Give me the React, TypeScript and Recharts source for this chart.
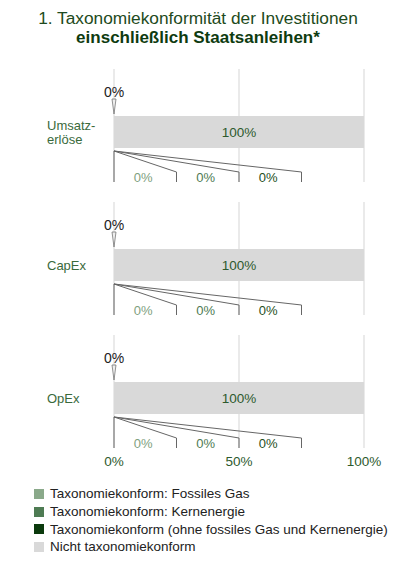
import React from "react";
import { BarChart, Bar, XAxis, YAxis, CartesianGrid, LabelList } from "recharts";

// Werte aus der Grafik (in %)
const kategorien = ["Umsatzerlöse", "CapEx", "OpEx"];
const kategorieLabels = [["Umsatz-", "erlöse"], ["CapEx"], ["OpEx"]];
const fossilesGas = [0, 0, 0];
const kernenergie = [0, 0, 0];
const ohneGasKern = [0, 0, 0];
const nichtKonform = [100, 100, 100];
const taxonomieGesamt = [0, 0, 0];
const xTicks = [0, 50, 100];

const serien = [
  { key: "gas", name: "Taxonomiekonform: Fossiles Gas", color: "#8aa98a", text: "#7f9f80" },
  { key: "kern", name: "Taxonomiekonform: Kernenergie", color: "#4e7b53", text: "#4e7b53" },
  { key: "ohne", name: "Taxonomiekonform (ohne fossiles Gas und Kernenergie)", color: "#0b3a0d", text: "#1f4f22" },
  { key: "nicht", name: "Nicht taxonomiekonform", color: "#d9d9d9", text: "#2d5a2d" },
];
const gruen = serien.slice(0, 3);

const FONT = "'Liberation Sans', Arial, sans-serif";
const PLOT_W = 250;
const SECTION_H = 113;
const tops = [69, 202, 335];

const rows = kategorien.map((k, i) => ({
  kategorie: k,
  gas: fossilesGas[i],
  kern: kernenergie[i],
  ohne: ohneGasKern[i],
  nicht: nichtKonform[i],
  gesamt: taxonomieGesamt[i],
}));

// Recharts 3 gibt die Position im viewBox mit
const box = (p: any) => {
  const vb = p.viewBox || {};
  return {
    x: Number(p.x ?? vb.x),
    y: Number(p.y ?? vb.y),
    width: Number(p.width ?? vb.width ?? 0),
    height: Number(p.height ?? vb.height ?? 0),
  };
};

const CategoryTick = ({ y, payload, lines }: any) => {
  const l: string[] = lines || [payload.value];
  const step = 14;
  const start = Number(y) + 4.5 - ((l.length - 1) * step) / 2;
  return (
    <g>
      {l.map((s, i) => (
        <text key={i} x={47} y={start + i * step} fill="#3a6a3c" fontSize={13} fontFamily={FONT}>
          {s}
        </text>
      ))}
    </g>
  );
};

// Beschriftungen der Nullwerte: Hinweislinien unter dem Balken, Summe darüber
const makeNullLabels = (idx: number) => (props: any) => {
  const b = box(props);
  if (isNaN(b.x) || isNaN(b.y)) return null;
  const row: any = rows[idx];
  const px = PLOT_W / 100;
  const sumGruen = gruen.reduce((a, s) => a + row[s.key], 0);
  const origin = b.x - sumGruen * px;
  const top = b.y;
  const bottom = b.y + b.height;
  let cum = 0;
  return (
    <g>
      <text x={origin} y={top - 19} textAnchor="middle" fill="#222" fontSize={14} fontFamily={FONT}>
        {row.gesamt}%
      </text>
      <polygon
        points={`${origin - 2},${top - 17} ${origin + 2},${top - 17} ${origin},${top - 2}`}
        fill="#eeeeee"
        stroke="#777"
        strokeWidth={0.8}
      />
      <line x1={origin} y1={bottom + 3} x2={origin} y2={bottom + 34} stroke="#666" strokeWidth={1} />
      {gruen.map((s, i) => {
        const v = row[s.key];
        const sx = origin + (cum + v / 2) * px;
        cum += v;
        const endX = origin + ((i + 1) * PLOT_W) / 4;
        const midX = origin + ((i + 0.5) * PLOT_W) / 4 - 2;
        return (
          <g key={s.key}>
            <path
              d={`M ${sx} ${bottom + 3} L ${endX} ${bottom + 24} L ${endX} ${bottom + 34}`}
              fill="none"
              stroke="#666"
              strokeWidth={1}
            />
            <text x={midX} y={bottom + 33.5} textAnchor="middle" fill={s.text} fontSize={13} fontFamily={FONT}>
              {v}%
            </text>
          </g>
        );
      })}
    </g>
  );
};

function Section({ idx }: { idx: number }) {
  const last = idx === kategorien.length - 1;
  const bottomSpace = last ? 30 : 6;
  return (
    <div style={{ position: "absolute", left: 0, top: tops[idx] }}>
      <BarChart
        width={400}
        height={SECTION_H + bottomSpace}
        data={[rows[idx]]}
        layout="vertical"
        margin={{ top: 0, right: 36, bottom: last ? 0 : bottomSpace, left: 0 }}
      >
        <CartesianGrid horizontal={false} stroke="#e3e3e3" strokeWidth={1.5} />
        <XAxis
          type="number"
          domain={[0, 100]}
          ticks={xTicks}
          hide={!last}
          height={30}
          axisLine={false}
          tickLine={false}
          tickFormatter={(v) => `${v}%`}
          tick={{ fill: "#2d5a2d", fontSize: 13.5, fontFamily: FONT }}
        />
        <YAxis
          type="category"
          dataKey="kategorie"
          width={114}
          padding={{ top: 13, bottom: 0 }}
          axisLine={false}
          tickLine={false}
          tick={(p: any) => <CategoryTick {...p} lines={kategorieLabels[idx]} />}
        />
        {serien.map((s, i) => (
          <Bar key={s.key} dataKey={s.key} stackId="a" fill={s.color} barSize={32} isAnimationActive={false}>
            {i === 3 && (
              <LabelList
                dataKey={s.key}
                position="center"
                formatter={(v: any) => `${v}%`}
                fill={s.text}
                fontSize={13.5}
                fontFamily={FONT}
              />
            )}
            {i === 3 && <LabelList dataKey={s.key} content={makeNullLabels(idx)} />}
          </Bar>
        ))}
      </BarChart>
    </div>
  );
}

export default function App() {
  return (
    <div style={{ position: "absolute", left: 0, top: 0, width: 400, height: 584, background: "#fff", fontFamily: FONT }}>
      <div style={{ position: "absolute", top: 9, left: 0, width: 396, textAlign: "center", lineHeight: "19px" }}>
        <div style={{ fontSize: 17.3, color: "#1e4a20" }}>1. Taxonomiekonformität der Investitionen</div>
        <div style={{ fontSize: 17, fontWeight: "bold", color: "#0e3b10" }}>einschließlich Staatsanleihen*</div>
      </div>
      {kategorien.map((k, i) => (
        <Section key={k} idx={i} />
      ))}
      <div style={{ position: "absolute", left: 34, top: 485 }}>
        {serien.map((s) => (
          <div key={s.key} style={{ display: "flex", alignItems: "center", height: 17.7, fontSize: 13.5, color: "#222" }}>
            <span style={{ width: 10, height: 10, background: s.color, marginRight: 6, display: "inline-block" }} />
            {s.name}
          </div>
        ))}
      </div>
    </div>
  );
}
